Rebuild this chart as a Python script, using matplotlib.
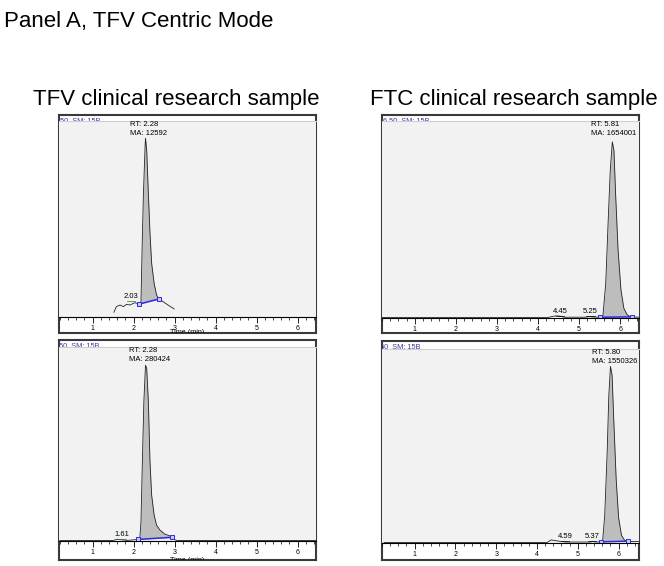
import numpy as np
import matplotlib.pyplot as plt

plt.rcParams["font.family"] = ["Liberation Sans", "DejaVu Sans"]

# chromatogram traces, time in min, intensity in % of the plot height
tfv_top_t = [1.52, 1.58, 1.67, 1.75, 1.83, 1.91, 2.03, 2.14, 2.18, 2.21, 2.24, 2.28,
             2.29, 2.32, 2.36, 2.40, 2.44, 2.50, 2.56, 2.62, 2.72, 2.84, 2.99]
tfv_top_y = [2.4, 5.3, 6.1, 5.3, 6.5, 6.1, 7.3, 6.6, 7.8, 37.6, 63, 87,
             91.2, 85, 63, 42.7, 27.4, 17.2, 11.2, 9.2, 7.8, 6.1, 4.1]

ftc_top_t = [0.2, 4.25, 4.35, 4.45, 4.55, 4.65, 5.15, 5.25, 5.35, 5.52, 5.58, 5.65,
             5.71, 5.76, 5.81, 5.85, 5.89, 5.95, 6.02, 6.09, 6.17, 6.25, 6.46]
ftc_top_y = [0.3, 0.3, 0.8, 1.1, 0.9, 0.4, 0.4, 0.7, 0.5, 0.4, 0.8, 17.7,
             49.8, 75, 89.4, 85, 63, 34.6, 14.3, 5, 1.7, 0.6, 0.4]

tfv_bot_t = [0.2, 1.50, 1.61, 1.72, 1.85, 2.10, 2.15, 2.18, 2.21, 2.25, 2.29, 2.32,
             2.36, 2.40, 2.44, 2.50, 2.56, 2.64, 2.76, 2.89, 2.94, 2.99, 3.05, 6.45]
tfv_bot_y = [0.3, 0.3, 0.9, 0.6, 0.3, 0.8, 1.0, 10, 37.4, 71.7, 90.6, 88.9,
             71.7, 40.8, 23.7, 13.4, 8.2, 5.7, 3.6, 2.6, 1.9, 0.8, 0.3, 0.3]

ftc_bot_t = [0.25, 4.25, 4.35, 4.45, 4.59, 4.70, 5.30, 5.37, 5.45, 5.56, 5.61, 5.66,
             5.72, 5.76, 5.80, 5.84, 5.88, 5.94, 6.00, 6.07, 6.15, 6.25, 6.50]
ftc_bot_y = [0.3, 0.3, 1.6, 1.2, 0.8, 0.5, 0.5, 0.8, 0.5, 0.6, 1.5, 14.4,
             47, 76, 91, 86.6, 64, 33, 13, 4, 1.3, 0.8, 0.8]

# integration baseline (start, end) for the shaded peak
tfv_top_base = [2.14, 2.62]
ftc_top_base = [5.52, 6.28]
tfv_bot_base = [2.10, 2.94]
ftc_bot_base = [5.56, 6.22]

# peak annotations
tfv_top_rt, tfv_top_ma = "2.28", "12592"
ftc_top_rt, ftc_top_ma = "5.81", "1654001"
tfv_bot_rt, tfv_bot_ma = "2.28", "280424"
ftc_bot_rt, ftc_bot_ma = "5.80", "1550326"

# small labelled peaks (label, x, y, colour of the marker under it)
tfv_top_minor = [("2.03", 1.93, 10.5, "#2a7a2a")]
ftc_top_minor = [("4.45", 4.54, 3.4, "black"), ("5.25", 5.28, 3.4, "black")]
tfv_bot_minor = [("1.61", 1.72, 3.4, "#2a7a2a")]
ftc_bot_minor = [("4.59", 4.69, 3.4, "black"), ("5.37", 5.35, 3.4, "black")]

W, H = 664, 566
fig = plt.figure(figsize=(W / 100, H / 100), dpi=100)


def rect(x0, y0, x1, y1):
    return [x0 / W, 1 - y1 / H, (x1 - x0) / W, (y1 - y0) / H]


def panel(frame, plot, xlim, t, y, base, rt, ma, rt_x, minor, header_x, time_label):
    fr = fig.add_axes(rect(*frame))
    fr.set_facecolor("white")
    fr.set_xticks([])
    fr.set_yticks([])
    for s in fr.spines.values():
        s.set_color("#3a3a3a")
        s.set_linewidth(1.5)
    fr.text(header_x, 0.988, "6.50  SM: 15B", transform=fr.transAxes, fontsize=5.3,
            color="#3b3ba8", va="top", ha="left", clip_on=True)
    if time_label:
        # axis title is cut off by the frame in the original export
        fr.text(0.5, 0.0, "Time (min)", transform=fr.transAxes, fontsize=5.2,
                ha="center", va="center", clip_on=True)

    ax = fig.add_axes(rect(*plot))
    ax.set_facecolor("#f2f2f2")
    ax.set_xlim(*xlim)
    ax.set_ylim(0, 100)
    for side in ["left", "right"]:
        ax.spines[side].set_visible(False)
    ax.spines["top"].set_color("#cfcfcf")
    ax.spines["top"].set_linewidth(0.8)
    ax.spines["bottom"].set_color("black")
    ax.spines["bottom"].set_linewidth(0.8)
    ax.set_yticks([])
    ax.set_xticks([1, 2, 3, 4, 5, 6])
    ax.set_xticks(np.arange(0.2, 6.5, 0.2), minor=True)
    ax.tick_params(axis="x", which="major", length=4, width=0.6, labelsize=5, pad=1.5)
    ax.tick_params(axis="x", which="minor", length=2, width=0.5)

    t = np.array(t)
    y = np.array(y)
    b0 = np.interp(base[0], t, y)
    b1 = np.interp(base[1], t, y)
    m = (t >= base[0]) & (t <= base[1])
    tt = np.concatenate([[base[0]], t[m], [base[1]]])
    yy = np.concatenate([[b0], y[m], [b1]])
    line = np.interp(tt, base, [b0, b1])
    ax.fill_between(tt, line, yy, color="#bdbdbd", lw=0)
    ax.plot(t, y, color="#222222", lw=0.6)
    ax.plot(base, [b0, b1], color="#2a2ae0", lw=1.1, marker="s", ms=3,
            mfc="#c8c8ff", mec="#2a2ae0", mew=0.7)

    ax.text(rt_x, 98.3, "RT: " + rt, fontsize=5.5, va="center", ha="left")
    ax.text(rt_x, 93.6, "MA: " + ma, fontsize=5.5, va="center", ha="left")
    for lab, lx, ly, col in minor:
        ax.text(lx, ly, lab, fontsize=5.5, color="black", ha="center", va="center")
        ax.plot([lx - 0.1, lx + 0.1], [ly - 2.5, ly - 2.5], color=col, lw=0.5)


panel((59, 115, 316, 333), (59, 121, 316, 317), (0.18, 6.45),
      tfv_top_t, tfv_top_y, tfv_top_base, tfv_top_rt, tfv_top_ma, 1.91,
      tfv_top_minor, -0.02, True)
panel((382, 115, 639, 333), (382, 121, 639, 318), (0.2, 6.46),
      ftc_top_t, ftc_top_y, ftc_top_base, ftc_top_rt, ftc_top_ma, 5.29,
      ftc_top_minor, 0.005, False)
panel((59, 340, 316, 560), (59, 347, 316, 541), (0.18, 6.45),
      tfv_bot_t, tfv_bot_y, tfv_bot_base, tfv_bot_rt, tfv_bot_ma, 1.89,
      tfv_bot_minor, -0.025, True)
panel((382, 341, 639, 560), (382, 349, 639, 543), (0.25, 6.5),
      ftc_bot_t, ftc_bot_y, ftc_bot_base, ftc_bot_rt, ftc_bot_ma, 5.35,
      ftc_bot_minor, -0.03, False)

fig.text(4 / W, 1 - 27 / H, "Panel A, TFV Centric Mode", fontsize=16, va="baseline")
fig.text(33 / W, 1 - 105 / H, "TFV clinical research sample", fontsize=16, va="baseline")
fig.text(370 / W, 1 - 105 / H, "FTC clinical research sample", fontsize=16, va="baseline")

fig.savefig("out.png", dpi=100)
